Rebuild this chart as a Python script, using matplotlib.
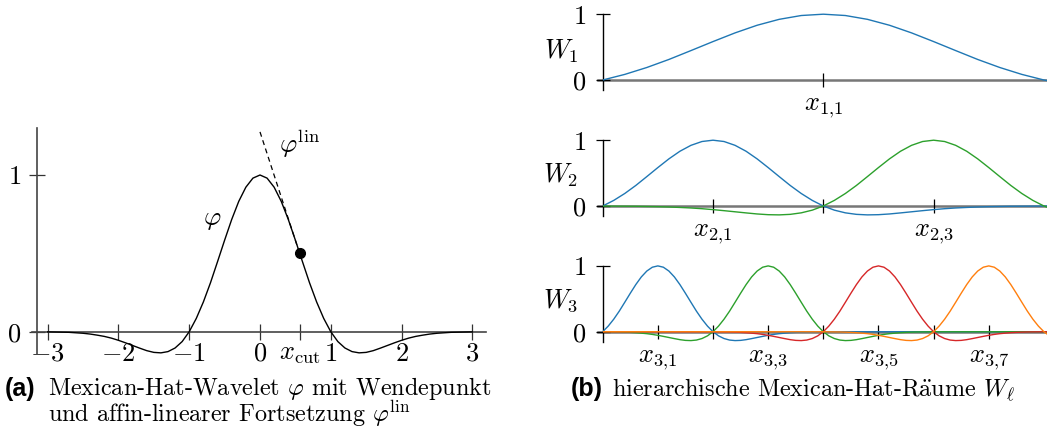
import matplotlib
matplotlib.use('Agg')
import matplotlib.pyplot as plt
from matplotlib.transforms import Affine2D

plt.rcParams['mathtext.fontset'] = 'cm'
plt.rcParams['font.family'] = ['cmr10', 'DejaVu Serif']
plt.rcParams['axes.unicode_minus'] = False

# Mexican-hat wavelet, values
phi_x = [-3.0, -2.9, -2.8, -2.7, -2.6, -2.5, -2.4, -2.3, -2.2, -2.1,
         -2.0, -1.9, -1.8, -1.7, -1.6, -1.5, -1.4, -1.3, -1.2, -1.1,
         -1.0, -0.9, -0.8, -0.7, -0.6, -0.5, -0.4, -0.3, -0.2, -0.1,
         0.0, 0.1, 0.2, 0.3, 0.4, 0.5, 0.6, 0.7, 0.8, 0.9,
         1.0, 1.1, 1.2, 1.3, 1.4, 1.5, 1.6, 1.7, 1.8, 1.9,
         2.0, 2.1, 2.2, 2.3, 2.4, 2.5, 2.6, 2.7, 2.8, 2.9, 3.0]
phi_y = [-0.001, -0.002, -0.003, -0.004, -0.007, -0.010, -0.015, -0.022, -0.030, -0.041,
         -0.055, -0.071, -0.088, -0.105, -0.121, -0.132, -0.135, -0.127, -0.104, -0.063,
         0.0, 0.085, 0.190, 0.312, 0.447, 0.584, 0.716, 0.832, 0.922, 0.980,
         1.0, 0.980, 0.922, 0.832, 0.716, 0.584, 0.447, 0.312, 0.190, 0.085,
         0.0, -0.063, -0.104, -0.127, -0.135, -0.132, -0.121, -0.105, -0.088, -0.071,
         -0.055, -0.041, -0.030, -0.022, -0.015, -0.010, -0.007, -0.004, -0.003, -0.002, -0.001]

x_cut = 0.56
cut_y = 0.50
lin_x = [0.0, 0.56]
lin_y = [1.275, 0.50]

left_ticks = [-3, -2, -1, 0, x_cut, 1, 2, 3]
left_ticklabels = ['$-3$', '$-2$', '$-1$', '$0$', r'$x_{\mathrm{cut}}$', '$1$', '$2$', '$3$']

# hierarchical spaces: centres and widths of the hats on [0, 1]
level1_centers = [0.5]
level2_centers = [0.25, 0.75]
level3_centers = [0.125, 0.375, 0.625, 0.875]
level_widths = [0.5, 0.25, 0.125]
level1_labels = [r'$x_{1{,}1}$']
level2_labels = [r'$x_{2{,}1}$', r'$x_{2{,}3}$']
level3_labels = [r'$x_{3{,}1}$', r'$x_{3{,}3}$', r'$x_{3{,}5}$', r'$x_{3{,}7}$']
level2_minor = [0.5]
level3_minor = [0.25, 0.5, 0.75]

level_colors = ['#1f77b4', '#2ca02c', '#d62728', '#ff7f0e']

# hat tails run flat far out
hat_x = [-7.0] + phi_x + [7.0]
hat_y = [0.0] + phi_y + [0.0]

W, H = 1047, 436
fig = plt.figure(figsize=(W / 100, H / 100), dpi=100)

TS = 19

# ---------- panel (a) ----------
ax = fig.add_axes([30 / W, 1 - 360 / H, 460 / W, 240 / H])
ax.set_xlim(-3.25, 3.25)
ax.set_ylim(-0.1806, 1.351)
ax.patch.set_visible(False)
for s in ['top', 'right']:
    ax.spines[s].set_visible(False)
ax.spines['bottom'].set_position(('data', 0))
ax.spines['bottom'].set_bounds(-3.22, 3.2)
ax.spines['left'].set_position(('data', -3.15))
ax.spines['left'].set_bounds(-0.14, 1.3)
for s in ['bottom', 'left']:
    ax.spines[s].set_color('#444444')
    ax.spines[s].set_linewidth(1.2)

ax.plot(phi_x, phi_y, color='black', lw=1.0, zorder=3)
ax.plot(lin_x, lin_y, color='black', lw=0.9, dashes=(4, 3), zorder=3)
ax.plot([x_cut], [cut_y], 'o', color='black', ms=7, zorder=4)

ax.set_xticks(left_ticks)
ax.set_xticklabels(left_ticklabels)
ax.set_yticks([0, 1])
ax.set_yticklabels(['$0$', '$1$'])
ax.tick_params(direction='inout', length=11, width=0.9, color='#333333', labelsize=TS)
ax.tick_params(axis='x', pad=2)
ax.tick_params(axis='y', pad=6)

ax.text(-0.68, 0.71, r'$\varphi$', ha='center', va='center', size=TS)
ax.text(0.27, 1.2, r'$\varphi^{\mathrm{lin}}$', ha='left', va='center', size=TS)

# ---------- panel (b) ----------
zeros = [80, 206, 331.7]
unit = 65.8
centers_all = [level1_centers, level2_centers, level3_centers]
labels_all = [level1_labels, level2_labels, level3_labels]
minor_all = [[], level2_minor, level3_minor]
names = [r'$W_1$', r'$W_2$', r'$W_3$']
label_y = [0.556, 0.575, 0.575]
colors_per_level = [[level_colors[0]],
                    [level_colors[0], level_colors[1]],
                    [level_colors[0], level_colors[1], level_colors[2], level_colors[3]]]

for i in range(3):
    top = zeros[i] - 1.15 * unit
    axr = fig.add_axes([602.7 / W, 1 - (top + 1.6 * unit) / H, 444.3 / W, 1.6 * unit / H])
    axr.set_xlim(0, 1.007)
    axr.set_ylim(-0.45, 1.15)
    axr.patch.set_visible(False)
    for s in ['top', 'right']:
        axr.spines[s].set_visible(False)
    axr.spines['bottom'].set_position(('data', 0))
    axr.spines['bottom'].set_bounds(-0.01, 1.007)
    axr.spines['bottom'].set_color('#777777')
    axr.spines['bottom'].set_linewidth(1.8)
    axr.spines['bottom'].set_zorder(1)
    axr.spines['left'].set_bounds(-0.15, 1)
    axr.spines['left'].set_linewidth(1.0)

    h = level_widths[i]
    for c, col in zip(centers_all[i], colors_per_level[i]):
        tr = Affine2D().scale(h, 1).translate(c, 0) + axr.transData
        axr.plot(hat_x, hat_y, color=col, lw=1.0, transform=tr, zorder=3)

    axr.set_xticks(centers_all[i])
    axr.set_xticklabels(labels_all[i])
    axr.set_xticks(minor_all[i], minor=True)
    axr.set_yticks([0, 1])
    axr.set_yticklabels(['$0$', '$1$'])
    axr.tick_params(which='both', direction='inout', length=10, width=0.9,
                    color='black', labelsize=TS)
    axr.tick_params(axis='x', pad=7)
    axr.tick_params(axis='y', pad=7)
    axr.set_ylabel(names[i], rotation=0, size=TS, ha='center', va='center')
    axr.yaxis.set_label_coords(-0.094, label_y[i])

# ---------- captions ----------
CS = 17.4
fig.text(5 / W, 1 - 396 / H, '(a)', family='Liberation Sans', weight='bold', size=18, va='baseline')
fig.text(48 / W, 1 - 422 / H,
         'Mexican-Hat-Wavelet $\\varphi$ mit Wendepunkt\n'
         'und affin-linearer Fortsetzung $\\varphi^{\\mathrm{lin}}$',
         size=CS, va='baseline', linespacing=0.84)
fig.text(571 / W, 1 - 396 / H, '(b)', family='Liberation Sans', weight='bold', size=18, va='baseline')
fig.text(612 / W, 1 - 396 / H, r'hierarchische Mexican-Hat-R$\ddot{\mathrm{a}}$ume $W_\ell$',
         size=CS, va='baseline')

fig.savefig('out.png', dpi=100)
